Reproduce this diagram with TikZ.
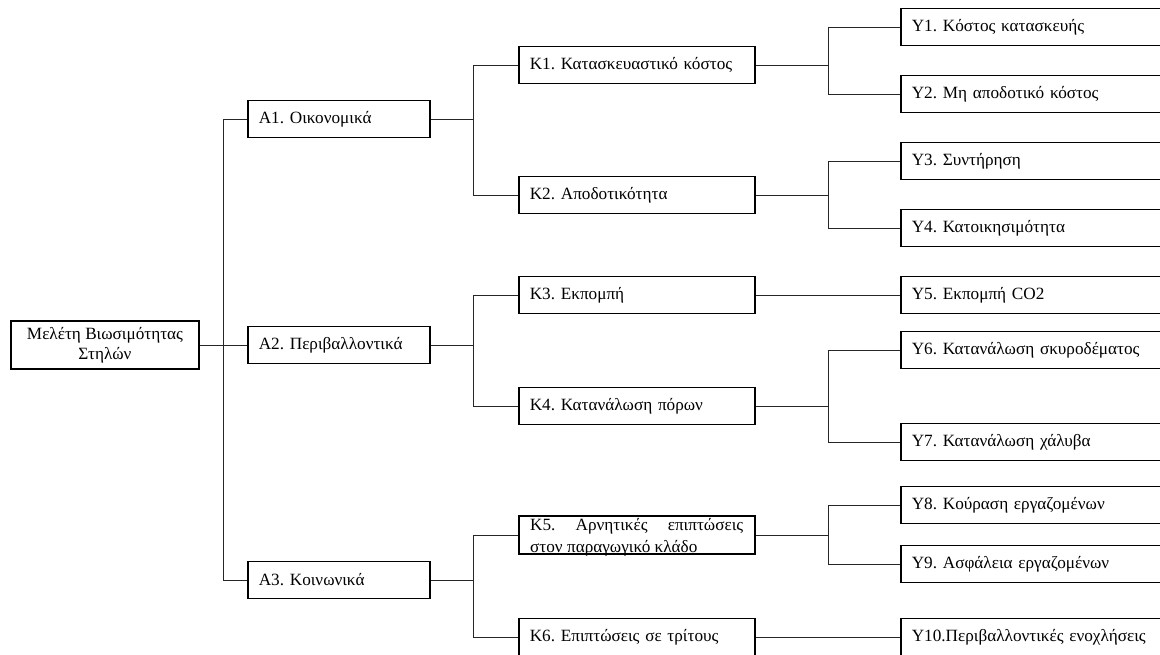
\documentclass[tikz,border=0pt]{standalone}
\usepackage{fontspec}
\setmainfont{Liberation Serif}
\frenchspacing
\begin{document}
\begin{tikzpicture}[x=1pt,y=-1pt,
  base/.style={draw=black, line width=1.6pt, rectangle, minimum height=37pt,
    inner xsep=11pt, inner ysep=0pt, align=left, anchor=west,
    font=\fontsize{17.2}{20}\selectfont},
  abox/.style={base, text width=160pt},
  kbox/.style={base, text width=214pt},
  ybox/.style={base, text width=248pt},
  conn/.style={draw=black!85, line width=0.9pt},
  txt/.style={inner sep=0pt, anchor=base west, font=\fontsize{17.2}{20}\selectfont}
]
\useasboundingbox (0,0) rectangle (1160,654);
\clip (0,0) rectangle (1160,654);
\coordinate (ax) at (223,0);
\coordinate (kx) at (473,0);
\coordinate (yx) at (828,0);

% root
\node[draw=black, line width=1.6pt, minimum width=188pt, minimum height=48pt,
  inner sep=0pt, align=center, font=\fontsize{17.2}{20}\selectfont] (root) at (105,345)
  {Μελέτη Βιωσιμότητας\\Στηλών};

% level A
\node[abox] (A1) at (247,119) {Α1. Οικονομικά};
\node[abox] (A2) at (247,345) {Α2. Περιβαλλοντικά};
\node[abox] (A3) at (247,580) {Α3. Κοινωνικά};

% level K
\node[kbox] (K1) at (518,65) {Κ1. Κατασκευαστικό κόστος};
\node[kbox] (K2) at (518,195) {Κ2. Αποδοτικότητα};
\node[kbox] (K3) at (518,295) {Κ3. Εκπομπή};
\node[kbox] (K4) at (518,406) {Κ4. Κατανάλωση πόρων};
\node[kbox, minimum height=38pt] (K5) at (518,535) {};
\node[txt] (K5a) at (530,530) {\makebox[213pt][s]{Κ5. Αρνητικές επιπτώσεις}};
\node[txt] (K5b) at (530,552) {στον παραγωγικό κλάδο};
\node[kbox] (K6) at (518,637) {Κ6. Επιπτώσεις σε τρίτους};

% level Y
\node[ybox] (Y1) at (900,27) {Υ1. Κόστος κατασκευής};
\node[ybox] (Y2) at (900,94) {Υ2. Μη αποδοτικό κόστος};
\node[ybox] (Y3) at (900,161) {Υ3. Συντήρηση};
\node[ybox] (Y4) at (900,228) {Υ4. Κατοικησιμότητα};
\node[ybox] (Y5) at (900,295) {Υ5. Εκπομπή CO2};
\node[ybox] (Y6) at (900,350) {Υ6. Κατανάλωση σκυροδέματος};
\node[ybox] (Y7) at (900,442) {Υ7. Κατανάλωση χάλυβα};
\node[ybox] (Y8) at (900,505) {Υ8. Κούραση εργαζομένων};
\node[ybox] (Y9) at (900,564) {Υ9. Ασφάλεια εργαζομένων};
\node[ybox] (Y10) at (900,637) {Υ10.Περιβαλλοντικές ενοχλήσεις};

% root -> A
\draw[conn] (root.east) -- (root.east -| ax);
\draw[conn] (A1.west -| ax) -- (A3.west -| ax);
\foreach \n in {A1,A2,A3} \draw[conn] (\n.west -| ax) -- (\n.west);

% A -> K
\draw[conn] (A1.east) -- (A1.east -| kx);
\draw[conn] (A2.east) -- (A2.east -| kx);
\draw[conn] (A3.east) -- (A3.east -| kx);
\draw[conn] (K1.west -| kx) -- (K2.west -| kx);
\draw[conn] (K3.west -| kx) -- (K4.west -| kx);
\draw[conn] (K5.west -| kx) -- (K6.west -| kx);
\foreach \n in {K1,K2,K3,K4,K5,K6} \draw[conn] (\n.west -| kx) -- (\n.west);

% K -> Y
\foreach \n in {K1,K2,K4,K5} \draw[conn] (\n.east) -- (\n.east -| yx);
\draw[conn] (Y1.west -| yx) -- (Y2.west -| yx);
\draw[conn] (Y3.west -| yx) -- (Y4.west -| yx);
\draw[conn] (Y6.west -| yx) -- (Y7.west -| yx);
\draw[conn] (Y8.west -| yx) -- (Y9.west -| yx);
\foreach \n in {Y1,Y2,Y3,Y4,Y6,Y7,Y8,Y9} \draw[conn] (\n.west -| yx) -- (\n.west);
\draw[conn] (K3.east) -- (Y5.west);
\draw[conn] (K6.east) -- (Y10.west);
\end{tikzpicture}
\end{document}
